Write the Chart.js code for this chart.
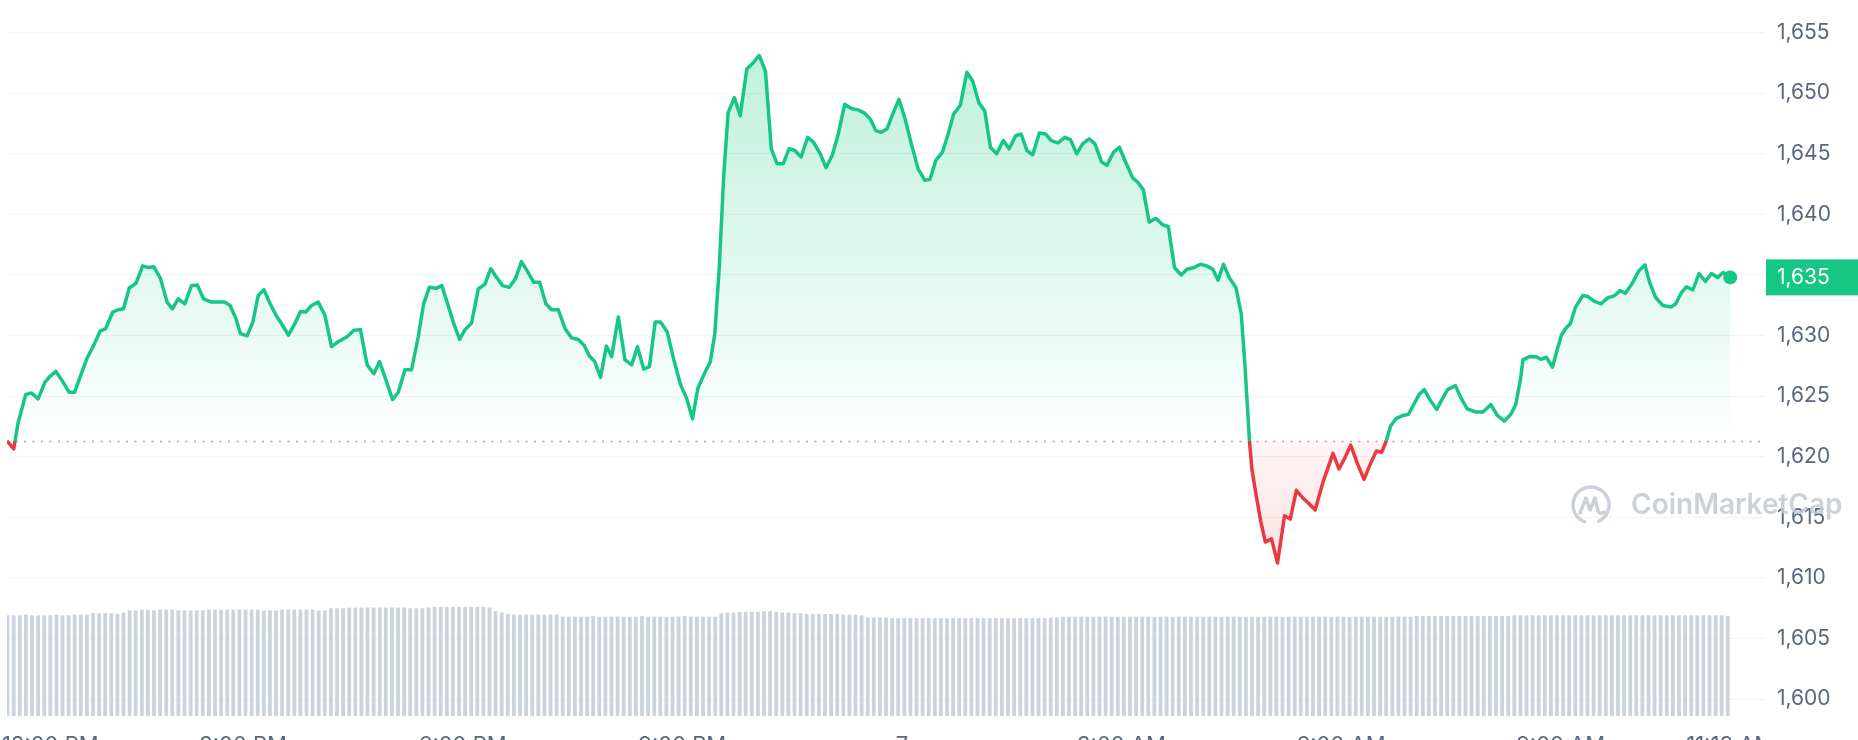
<!DOCTYPE html>
<html><head><meta charset="utf-8">
<script src="https://cdn.jsdelivr.net/npm/chart.js@4.4.0/dist/chart.umd.min.js"></script>
<style>html,body{margin:0;padding:0;background:#fff;overflow:hidden;width:1858px;height:740px}#wrap{position:relative;width:1858px;height:740px}</style>
</head><body><div id="wrap"><canvas id="c"></canvas></div>
<script>
// minutes after 12:00 PM (day 1)
const times = [-13.5,-8.0,-4.4,1.8,6.5,12.0,17.5,21.1,26.6,32.1,37.5,41.9,46.6,52.1,57.6,63.0,67.4,73.2,77.6,82.0,86.7,92.2,97.7,102.4,106.8,112.2,117.7,122.1,126.8,132.3,137.7,142.5,147.6,154.1,165.1,169.4,174.2,177.8,183.3,188.0,192.4,197.1,202.2,207.0,212.4,217.2,222.7,227.0,231.4,236.1,241.6,247.1,252.5,258.0,265.3,270.8,276.2,281.7,287.2,291.9,296.3,302.5,307.2,312.7,318.1,323.6,328.0,332.7,338.2,342.9,348.4,352.7,357.5,361.9,367.3,372.8,378.3,383.0,387.4,392.8,398.3,403.1,408.2,412.9,418.3,423.1,428.2,432.9,438.4,443.9,449.3,454.8,459.5,463.9,468.3,473.0,477.8,482.1,487.6,493.1,498.5,503.3,508.4,513.1,517.8,522.2,527.7,533.1,538.6,543.4,548.4,
552.8,558.3,563.0,566.7,570.3,574.0,577.6,582.7,587.5,592.9,598.4,603.1,608.2,613.0,617.7,622.8,627.5,632.3,637.4,642.8,647.6,653.1,657.8,662.9,667.6,673.1,678.6,684.0,689.5,694.2,698.6,703.0,707.7,712.5,717.6,722.7,727.8,733.2,738.7,743.1,747.8,753.3,757.6,762.4,767.9,773.3,778.1,783.1,787.9,792.6,797.7,803.2,807.9,813.4,817.8,822.5,827.2,832.7,837.8,842.5,848.0,853.5,858.2,863.3,868.1,873.5,878.3,883.7,888.1,893.6,898.3,903.4,909.2,913.6,918.0,922.7,928.2,933.7,938.4,943.5,949.0,953.7,959.2,964.7,970.1,974.9,979.2,983.6,988.3,993.8,998.2,
1001.1,1003.4,1004.9,1006.9,1010.4,1014.2,1018.0,1023.0,1027.9,1033.7,1038.4,1043.4,1049.2,1053.6,1058.8,1065.2,1073.4,1078.3,1082.7,1087.9,1093.5,1098.8,1103.7,1109.0,1113.3,1117.1,1120.6,1125.0,1130.8,1135.2,1139.6,1143.9,1148.3,1152.7,1158.5,1162.0,1167.3,1173.7,1178.3,1183.3,1190.6,1196.4,1202.8,1208.1,1213.9,1219.2,1223.2,1227.0,1229.1,1234.3,1239.6,1243.7,1248.3,1253.3,1257.1,1260.6,1264.1,1267.9,1272.2,1278.1,1282.4,1287.4,1293.2,1298.5,1304.3,1308.7,1313.1,1318.3,1324.1,1329.1,1332.9,1337.8,1343.7,1350.4,1354.4,1359.1,1363.2,1368.4,1373.4,1378.6,1383.6,1388.8,1393.2,1399.0];

const prices = [1621.31,1620.63,1622.80,1625.12,1625.26,1624.77,1626.13,1626.56,1627.03,1626.21,1625.31,1625.31,1626.62,1628.12,1629.20,1630.38,1630.57,1631.93,1632.12,1632.20,1633.92,1634.30,1635.74,1635.60,1635.66,1634.73,1632.75,1632.20,1633.02,1632.61,1634.11,1634.16,1633.02,1632.75,1632.75,1632.47,1631.38,1630.16,1629.97,1631.11,1633.29,1633.78,1632.61,1631.66,1630.84,1630.02,1631.03,1631.98,1631.93,1632.47,1632.75,1631.66,1629.07,1629.48,1629.89,1630.43,1630.48,1627.57,1626.84,1627.84,1626.56,1624.71,1625.31,1627.16,1627.16,1629.89,1632.61,1633.97,1633.89,1634.11,1632.39,1630.97,1629.67,1630.48,1631.03,1633.83,1634.24,1635.52,1634.84,1634.11,1633.97,1634.65,1636.09,1635.33,1634.38,1634.38,1632.61,1632.12,1632.12,1630.57,1629.80,1629.67,1629.20,1628.31,1627.84,1626.54,1629.12,1628.25,1631.52,1627.98,1627.57,1629.07,1627.22,1627.43,1631.11,1631.11,1630.29,1627.98,1625.94,1624.85,1623.13,
1625.65,1626.88,1627.83,1630.15,1635.59,1643.22,1648.39,1649.62,1648.12,1651.99,1652.53,1653.10,1651.80,1645.40,1644.17,1644.17,1645.40,1645.26,1644.72,1646.35,1645.94,1644.99,1643.85,1644.85,1646.49,1649.07,1648.72,1648.61,1648.34,1647.85,1646.90,1646.76,1647.03,1648.26,1649.48,1647.85,1645.81,1643.77,1642.81,1642.89,1644.44,1645.13,1646.49,1648.26,1648.99,1651.72,1650.98,1649.21,1648.53,1645.53,1644.99,1646.08,1645.40,1646.49,1646.62,1645.26,1644.91,1646.71,1646.62,1646.08,1645.89,1646.35,1646.16,1644.99,1645.81,1646.22,1645.81,1644.31,1644.04,1645.13,1645.53,1644.31,1643.00,1642.62,1641.99,1639.35,1639.67,1639.13,1638.99,1635.59,1634.99,1635.46,1635.59,1635.87,1635.73,1635.46,1634.56,1635.87,1634.78,1633.96,1631.78,
1627.71,1623.89,1621.31,1618.99,1616.81,1614.64,1612.95,1613.22,1611.23,1615.13,1614.85,1617.22,1616.54,1616.13,1615.59,1617.90,1620.27,1618.99,1619.81,1620.95,1619.40,1618.12,1619.32,1620.46,1620.35,1621.31,1622.53,1623.13,1623.40,1623.49,1624.30,1625.12,1625.53,1624.71,1623.89,1624.58,1625.53,1625.86,1624.85,1623.95,1623.68,1623.68,1624.30,1623.40,1622.94,1623.49,1624.30,1626.35,1627.98,1628.25,1628.25,1628.03,1628.20,1627.38,1628.80,1630.02,1630.57,1630.97,1632.34,1633.29,1633.21,1632.83,1632.61,1633.10,1633.29,1633.70,1633.48,1634.24,1635.33,1635.82,1634.38,1633.15,1632.47,1632.34,1632.61,1633.56,1634.02,1633.75,1635.11,1634.46,1635.11,1634.79,1635.20,1634.79];

const openPrice = 1621.3;

// 5-minute volume bars (relative units)
const volumes = [
1.42,1.42,1.42,1.43,1.42,1.42,1.42,1.42,1.43,1.42,1.42,1.43,1.43,1.43,
1.45,1.45,1.45,1.45,1.44,1.46,
1.49,1.49,1.50,1.50,1.49,1.50,1.50,1.50,1.49,1.49,1.49,1.49,1.49,1.50,1.50,1.50,1.50,1.50,1.50,1.50,1.50,1.50,1.49,1.49,1.49,1.50,1.50,1.50,1.50,1.50,1.50,1.49,1.49,
1.52,1.52,1.52,1.53,1.53,1.53,1.53,1.53,1.53,1.53,1.53,1.53,1.53,1.52,1.52,1.52,
1.53,1.54,1.54,1.54,1.54,1.54,1.54,1.54,1.54,1.54,1.53,
1.48,1.46,
1.44,1.43,1.43,1.43,1.43,1.43,1.43,1.43,1.43,
1.40,1.40,1.40,1.40,1.40,1.41,1.40,1.40,1.40,1.40,1.40,1.40,1.40,1.41,1.40,1.40,1.40,1.40,1.40,1.40,1.41,1.40,1.40,1.40,1.40,1.40,
1.45,1.46,1.46,1.47,1.47,1.47,1.47,1.48,1.48,1.47,1.46,1.46,
1.45,1.45,1.44,1.44,1.44,1.44,1.44,1.44,1.43,1.43,1.43,1.42,
1.39,1.39,1.39,1.39,1.38,1.38,1.38,1.38,1.38,1.38,1.38,1.38,1.38,1.38,1.38,1.38,1.38,1.38,1.38,1.38,1.38,1.38,1.38,1.38,1.38,1.38,1.38,1.38,1.38,1.38,1.39,
1.39,1.40,1.40,1.40,1.40,1.40,1.40,1.40,1.40,1.40,1.40,1.40,1.40,1.40,1.40,1.40,1.40,1.40,1.40,1.40,1.40,1.40,1.40,1.40,1.40,1.40,1.40,1.40,1.40,1.40,1.40,1.40,1.40,1.40,1.40,1.40,1.40,1.40,1.40,
1.40,1.40,1.40,1.40,1.40,1.40,1.40,1.40,1.40,1.40,1.40,1.40,1.40,1.40,1.40,1.40,1.40,1.40,1.40,1.40,1.41,1.41,1.41,1.41,1.41,1.41,1.41,1.41,1.41,1.41,1.41,1.41,1.41,1.41,1.41,1.41,
1.42,1.42,1.42,1.42,1.42,1.42,1.42,1.42,1.42,1.42,1.42,1.42,1.42,1.42,1.42,1.42,1.42,1.42,1.42,1.42,1.42,1.42,1.42,1.42,1.42,1.42,1.42,1.42,1.42,1.42,1.42,1.42,1.42,1.42,1.42,1.41];
const volumeStart = -13, volumeStep = 5; // bar slots every 5 minutes
const volumeTimes = volumes.map((_, i) => volumeStart + i * volumeStep);

const yTicks = [1600,1605,1610,1615,1620,1625,1630,1635,1640,1645,1650,1655];
const xTickMinutes = [0,180,360,540,720,900,1080,1260,1399];
const xTickLabels = ['12:00 PM','3:00 PM','6:00 PM','9:00 PM','7','3:00 AM','6:00 AM','9:00 AM','11:18 AM'];

const GREEN = '#16c784', RED = '#ea3943';
Chart.defaults.font.family = 'Inter, sans-serif';

function baseRatio(chart) {
  const a = chart.chartArea, y = chart.scales.y;
  const yb = y.getPixelForValue(openPrice);
  return {a, yb, r: Math.min(1, Math.max(0, (yb - a.top) / (a.bottom - a.top)))};
}

const overlay = {
  id: 'overlay',
  beforeDatasetsDraw(chart) {
    const {ctx} = chart;
    const {a, yb} = baseRatio(chart);
    ctx.save();
    ctx.strokeStyle = '#a3a9b3'; ctx.lineWidth = 1.5; ctx.setLineDash([2, 6.5]);
    ctx.beginPath(); ctx.moveTo(a.left, Math.round(yb) + 0.5); ctx.lineTo(a.right, Math.round(yb) + 0.5); ctx.stroke();
    ctx.restore();
  },
  afterDraw(chart) {
    const {ctx, chartArea: a, scales: {x, y}} = chart;
    // x labels (partly cut by the bottom edge, as in the screenshot)
    ctx.save();
    ctx.beginPath(); ctx.rect(0, 0, a.right, chart.height); ctx.clip();
    ctx.font = '22px Inter'; ctx.fillStyle = '#58667e'; ctx.textBaseline = 'top'; ctx.textAlign = 'center';
    xTickMinutes.forEach((m, i) => {
      let px = x.getPixelForValue(m);
      const w = ctx.measureText(xTickLabels[i]).width;
      if (px - w / 2 < 2) px = 2 + w / 2;
      ctx.fillText(xTickLabels[i], px, a.bottom + 18);
    });
    ctx.restore();
    // current price tag
    const last = prices[prices.length - 1];
    const py = y.getPixelForValue(last);
    ctx.save();
    ctx.fillStyle = GREEN;
    ctx.fillRect(a.right + 1, py - 18, chart.width - a.right - 1, 36);
    ctx.fillStyle = '#ffffff'; ctx.font = '21px Inter'; ctx.textAlign = 'left'; ctx.textBaseline = 'middle';
    ctx.fillText(Math.round(last).toLocaleString('en-US'), a.right + 12, py);
    ctx.restore();
    // watermark
    ctx.save();
    ctx.globalAlpha = 0.85;
    ctx.strokeStyle = '#c3c8d1'; ctx.fillStyle = '#c3c8d1';
    const cx = 1591, cy = 505;
    ctx.lineWidth = 3.5; ctx.lineCap = 'round'; ctx.lineJoin = 'round';
    ctx.beginPath(); ctx.arc(cx, cy, 18, Math.PI * 0.62, Math.PI * 0.42 + Math.PI * 2 - 0.2); ctx.stroke();
    ctx.beginPath();
    ctx.moveTo(cx - 11, cy + 8); ctx.lineTo(cx - 5, cy - 7); ctx.lineTo(cx - 1, cy + 5);
    ctx.lineTo(cx + 4, cy - 7); ctx.lineTo(cx + 7, cy + 6); ctx.quadraticCurveTo(cx + 9, cy + 10, cx + 13, cy + 7);
    ctx.stroke();
    ctx.font = '600 28px Inter'; ctx.textAlign = 'left'; ctx.textBaseline = 'middle';
    ctx.fillText('CoinMarketCap', 1631, cy + 1);
    ctx.restore();
  }
};

new Chart(document.getElementById('c'), {
  type: 'line',
  data: {
    datasets: [{
      type: 'line',
      data: times.map((t, i) => ({x: t, y: prices[i]})),
      xAxisID: 'x', yAxisID: 'y',
      borderWidth: 3.5,
      tension: 0,
      borderJoinStyle: 'round',
      borderColor: (ctx) => {
        const chart = ctx.chart;
        if (!chart.chartArea) return GREEN;
        const {a, r} = baseRatio(chart);
        const g = chart.ctx.createLinearGradient(0, a.top, 0, a.bottom);
        g.addColorStop(0, GREEN); g.addColorStop(r, GREEN); g.addColorStop(r, RED); g.addColorStop(1, RED);
        return g;
      },
      backgroundColor: 'rgba(22,199,132,0.1)',
      fill: (ctx) => {
        const chart = ctx.chart;
        if (!chart.chartArea) return {target: {value: openPrice}};
        const {a, yb} = baseRatio(chart);
        const up = chart.ctx.createLinearGradient(0, a.top, 0, yb);
        up.addColorStop(0, 'rgba(22,199,132,0.30)');
        up.addColorStop(0.7, 'rgba(22,199,132,0.10)');
        up.addColorStop(1, 'rgba(22,199,132,0.0)');
        const low = chart.scales.y.getPixelForValue(1611);
        const dn = chart.ctx.createLinearGradient(0, yb, 0, low);
        dn.addColorStop(0, 'rgba(234,57,67,0.05)');
        dn.addColorStop(1, 'rgba(234,57,67,0.14)');
        return {target: {value: openPrice}, above: up, below: dn};
      },
      pointRadius: (ctx) => ctx.dataIndex === prices.length - 1 ? 7 : 0,
      pointBackgroundColor: GREEN,
      pointBorderWidth: 0,
      pointHoverRadius: 0,
      order: 0
    }, {
      type: 'bar',
      data: volumeTimes.map((t, i) => ({x: t, y: volumes[i]})),
      xAxisID: 'x', yAxisID: 'yv',
      backgroundColor: '#ccd3dd',
      barPercentage: 0.62,
      categoryPercentage: 1,
      order: 1
    }]
  },
  options: {
    responsive: true,
    maintainAspectRatio: false,
    animation: false,
    events: [],
    layout: {padding: {left: 0, right: 0, top: 0, bottom: 24}},
    plugins: {legend: {display: false}, tooltip: {enabled: false}},
    scales: {
      x: {type: 'linear', min: -13.5, max: 1427.5, display: false, offset: false},
      y: {
        position: 'right', min: 1598.6, max: 1657.1,
        afterBuildTicks: (s) => { s.ticks = yTicks.map(v => ({value: v})); },
        afterFit: (s) => { s.width = 93; s.paddingTop = 0; s.paddingBottom = 0; },
        ticks: {color: '#58667e', font: {size: 21}, padding: 12},
        grid: {color: '#f1f2f4', drawTicks: false},
        border: {display: false}
      },
      yv: {display: false, min: 0, max: 10}
    }
  },
  plugins: [overlay]
});
</script>
</body></html>
